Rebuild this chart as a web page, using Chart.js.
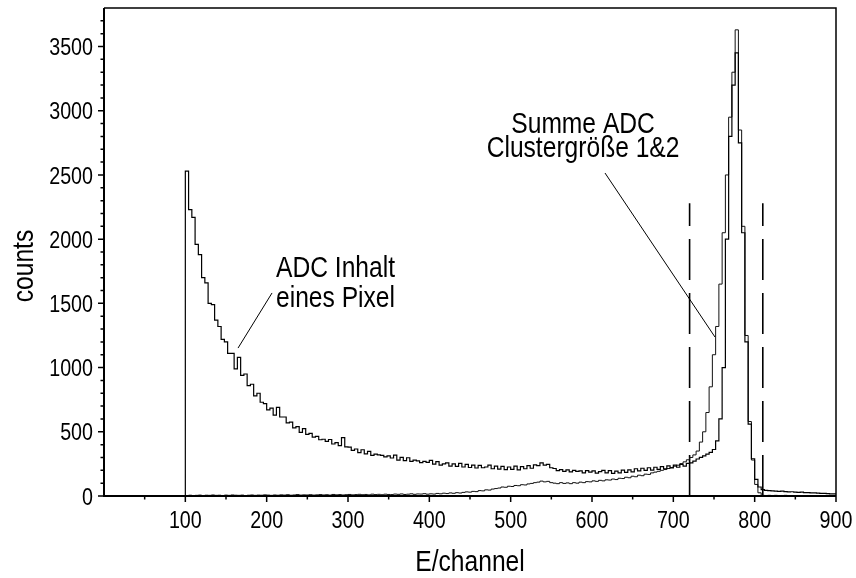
<!DOCTYPE html>
<html>
<head>
<meta charset="utf-8">
<script src="https://cdn.jsdelivr.net/npm/chart.js@4/dist/chart.umd.min.js"></script>
<style>
  html, body { margin: 0; padding: 0; background: #fff; }
  #grafica { width: 856px; height: 578px; }
</style>
</head>
<body>
<div id="grafica"><canvas id="spektrum" width="856" height="578"></canvas></div>
<script>
// histogram binning: 4 ADC channels per bin, first bin at channel 100
const binStart = 100;
const binWidth = 4;

// ADC content of a single pixel
const pixelCounts = [
  2530, 2230, 2170, 1960, 1880, 1700, 1660, 1500, 1490, 1370,
  1320, 1220, 1200, 1110, 1110, 990, 1080, 940, 950, 860,
  870, 780, 800, 730, 720, 670, 685, 630, 690, 615,
  615, 570, 575, 530, 540, 495, 525, 480, 488, 458,
  465, 438, 442, 425, 440, 405, 415, 392, 455, 382,
  380, 355, 366, 338, 360, 328, 348, 316, 326, 320,
  316, 305, 312, 296, 318, 280, 300, 276, 298, 270,
  280, 274, 260, 270, 262, 278, 248, 268, 240, 250,
  258, 232, 250, 230, 254, 226, 246, 222, 240, 218,
  238, 220, 226, 240, 212, 232, 210, 230, 206, 226,
  208, 232, 204, 228, 212, 236, 216, 242, 236, 258,
  240, 246, 220, 214, 198, 206, 192, 204, 188, 200,
  192, 196, 180, 198, 186, 196, 178, 190, 200, 180,
  198, 176, 194, 180, 202, 184, 204, 188, 212, 196,
  216, 200, 220, 202, 224, 208, 228, 212, 234, 218,
  240, 224, 246, 232, 254, 258, 272, 288, 300, 312,
  326, 340, 362, 430, 600, 1000, 2000, 2800, 3200, 3450,
  2750, 2050, 1200, 560, 290, 130, 70, 50, 44, 42,
  40, 38, 36, 38, 34, 32, 33, 30, 28, 30,
  26, 27, 24, 25, 22, 20, 21, 18, 17, 16
];

// summed ADC for cluster size 1 and 2
const clusterCounts = [
  4, 6, 3, 5, 7, 4, 6, 5, 8, 5,
  6, 4, 7, 5, 8, 6, 5, 7, 4, 6,
  8, 5, 7, 6, 9, 7, 5, 8, 6, 9,
  7, 10, 6, 8, 11, 7, 9, 8, 10, 7,
  9, 11, 8, 10, 7, 12, 9, 11, 8, 10,
  12, 9, 11, 13, 10, 12, 9, 14, 11, 13,
  10, 14, 12, 11, 15, 13, 16, 12, 14, 17,
  13, 16, 15, 18, 14, 17, 15, 20, 17, 22,
  19, 24, 21, 26, 23, 28, 32, 30, 36, 34,
  42, 40, 48, 46, 54, 58, 62, 70, 68, 76,
  74, 82, 80, 88, 86, 94, 98, 104, 108, 116,
  110, 114, 104, 100, 96, 104, 98, 102, 96, 104,
  100, 108, 104, 112, 110, 118, 114, 122, 118, 126,
  124, 132, 128, 138, 136, 146, 142, 154, 150, 162,
  158, 170, 168, 180, 186, 192, 200, 206, 214, 222,
  232, 240, 252, 266, 282, 300, 320, 350, 420, 500,
  650, 850, 1100, 1320, 1650, 2050, 2500, 2950, 3300, 3630,
  2850, 2100, 1250, 580, 280, 90, 25, 5, 4, 5,
  4, 5, 3, 4, 5, 3, 4, 3, 4, 3,
  3, 4, 2, 3, 3, 2, 3, 2, 2, 3
];

// energy window cuts (dashed)
const windowCuts = [720, 810];
const windowTop = 2280;

const xTickValues = [100, 200, 300, 400, 500, 600, 700, 800, 900];
const yTickValues = [0, 500, 1000, 1500, 2000, 2500, 3000, 3500];
const xMinorStep = 50;
const yMinorStep = 100;
const xRange = [0, 900];
const yRange = [0, 3800];

// no narrow face installed, so Liberation Sans gets squeezed horizontally
const FONT = "'Liberation Sans', Arial, sans-serif";
const NARROW = 0.82;

const beschriftung = [
  { lines: ["ADC Inhalt", "eines Pixel"], x: 211.5, y: [1705, 1472], align: "left",
    leader: [[206.6, 1581], [164.8, 1152]] },
  { lines: ["Summe ADC", "Clustergröße 1&2"], x: 589, y: [2827, 2640], align: "center",
    leader: [[616, 2515], [751.2, 1238]] }
];

function histogramPoints(counts) {
  const pts = [{ x: binStart, y: 0 }];
  counts.forEach((c, i) => pts.push({ x: binStart + i * binWidth, y: c }));
  pts.push({ x: binStart + counts.length * binWidth, y: counts[counts.length - 1] });
  return pts;
}

function narrowText(ctx, text, x, y, size, align, angle) {
  ctx.save();
  ctx.translate(x, y);
  if (angle) ctx.rotate(angle);
  ctx.scale(NARROW, 1);
  ctx.font = size + "px " + FONT;
  ctx.textAlign = align;
  ctx.textBaseline = "alphabetic";
  ctx.fillText(text, 0, 0);
  ctx.restore();
}

// frame, ticks, tick labels, axis titles and the labels with leader lines
const rahmen = {
  id: "rahmen",
  afterDraw(chart) {
    const { ctx, chartArea: a, scales: { x, y } } = chart;
    ctx.save();
    ctx.strokeStyle = "#000";
    ctx.fillStyle = "#000";

    ctx.lineWidth = 1.5;
    ctx.beginPath();
    ctx.moveTo(a.left, a.top);
    ctx.lineTo(a.right, a.top);
    ctx.lineTo(a.right, a.bottom);
    ctx.stroke();

    ctx.lineWidth = 2;
    ctx.beginPath();
    ctx.moveTo(a.left, a.top);
    ctx.lineTo(a.left, a.bottom);
    ctx.lineTo(a.right, a.bottom);
    ctx.stroke();

    ctx.lineWidth = 1.5;
    ctx.beginPath();
    for (let v = yRange[0]; v < yRange[1]; v += yMinorStep) {
      const py = y.getPixelForValue(v);
      const len = v % 500 === 0 ? 6 : 3.5;
      ctx.moveTo(a.left - len, py);
      ctx.lineTo(a.left, py);
    }
    for (let v = xRange[0] + xMinorStep; v <= xRange[1]; v += xMinorStep) {
      const px = x.getPixelForValue(v);
      const len = v % 100 === 0 ? 6 : 3.5;
      ctx.moveTo(px, a.bottom);
      ctx.lineTo(px, a.bottom + len);
    }
    ctx.stroke();

    y.ticks.forEach((t) => {
      narrowText(ctx, String(t.value), a.left - 11, y.getPixelForValue(t.value) + 8.6, 24, "right");
    });
    x.ticks.forEach((t) => {
      narrowText(ctx, String(t.value), x.getPixelForValue(t.value), a.bottom + 32, 24, "center");
    });

    narrowText(ctx, "E/channel", (a.left + a.right) / 2, 571, 30, "center");
    narrowText(ctx, "counts", 33, 266, 30, "center", -Math.PI / 2);

    beschriftung.forEach((b) => {
      b.lines.forEach((t, i) => {
        narrowText(ctx, t, x.getPixelForValue(b.x), y.getPixelForValue(b.y[i]), 30, b.align);
      });
      ctx.lineWidth = 1;
      ctx.beginPath();
      ctx.moveTo(x.getPixelForValue(b.leader[0][0]), y.getPixelForValue(b.leader[0][1]));
      ctx.lineTo(x.getPixelForValue(b.leader[1][0]), y.getPixelForValue(b.leader[1][1]));
      ctx.stroke();
    });
    ctx.restore();
  }
};

function mountChart() {
  const ctx = document.getElementById("spektrum");
  const datasets = [
    {
      label: "ADC Inhalt eines Pixel",
      data: histogramPoints(pixelCounts),
      borderColor: "#000",
      borderWidth: 1.2,
      stepped: "before",
      pointRadius: 0,
      fill: false
    },
    {
      label: "Summe ADC Clustergröße 1&2",
      data: histogramPoints(clusterCounts),
      borderColor: "#111",
      borderWidth: 1,
      stepped: "before",
      pointRadius: 0,
      fill: false
    }
  ];
  windowCuts.forEach((c) => {
    datasets.push({
      label: "Schnitt " + c,
      data: [{ x: c, y: 0 }, { x: c, y: windowTop }],
      borderColor: "#000",
      borderWidth: 1.6,
      borderDash: [41, 13],
      pointRadius: 0,
      fill: false
    });
  });

  new Chart(ctx, {
    type: "line",
    data: { datasets: datasets },
    plugins: [rahmen],
    options: {
      responsive: false,
      animation: false,
      devicePixelRatio: 1,
      layout: { padding: { top: 8, right: 20, left: 0, bottom: 0 } },
      plugins: {
        legend: { display: false },
        tooltip: { enabled: false }
      },
      scales: {
        x: {
          type: "linear",
          min: xRange[0],
          max: xRange[1],
          afterBuildTicks: (scale) => { scale.ticks = xTickValues.map((v) => ({ value: v })); },
          afterFit: (scale) => {
            scale.height = 82;
            scale.paddingLeft = 0;
            scale.paddingRight = 0;
          },
          grid: { display: false },
          border: { display: false },
          ticks: { display: false }
        },
        y: {
          type: "linear",
          min: yRange[0],
          max: yRange[1],
          afterBuildTicks: (scale) => { scale.ticks = yTickValues.map((v) => ({ value: v })); },
          afterFit: (scale) => {
            scale.width = 104;
            scale.paddingTop = 0;
            scale.paddingBottom = 0;
          },
          grid: { display: false },
          border: { display: false },
          ticks: { display: false }
        }
      }
    }
  });
}

mountChart();
</script>
</body>
</html>
